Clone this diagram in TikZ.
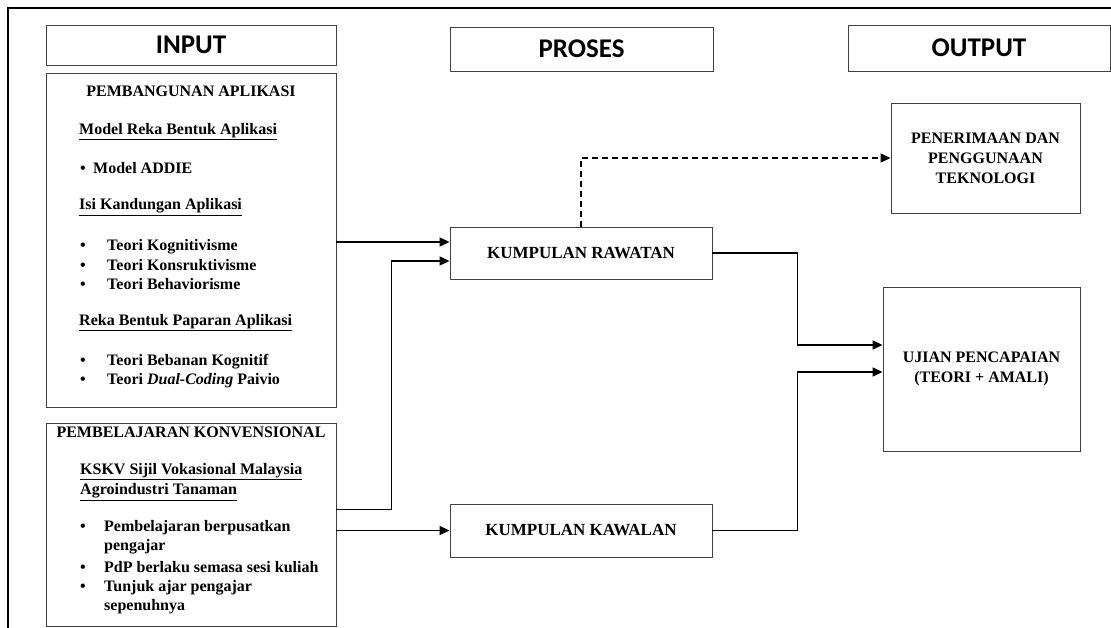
\documentclass[tikz,border=0pt]{standalone}
\usepackage{fontspec}
\setmainfont{Liberation Serif}
\newfontfamily\hdfont{Carlito}
\usetikzlibrary{arrows.meta}
\newcommand{\bul}[1]{\makebox[#1][l]{\textbullet}}

\begin{document}
\begin{tikzpicture}[x=1pt,y=-1pt,
  box/.style={draw=black!75, line width=0.9pt, inner sep=0pt},
  hdr/.style={box, font=\hdfont\bfseries\fontsize{27}{30}\selectfont},
  txt/.style={anchor=west, inner sep=0pt, font=\bfseries\fontsize{16}{19}\selectfont},
  grp/.style={box, font=\bfseries\fontsize{17}{20}\selectfont},
  res/.style={box, align=center, font=\bfseries\fontsize{16}{20}\selectfont},
  flow/.style={line width=1.4pt, -{Triangle[length=10pt,width=9pt]}},
]
\useasboundingbox (0,0) rectangle (1111,628);
\draw[line width=1.3pt] (1111,8) -- (8,8) -- (8,628);

% headers
\node[hdr, minimum width=290pt, minimum height=40pt] (hin) at (191,45) {INPUT};
\node[hdr, minimum width=263pt, minimum height=44pt] (hpro) at (581.5,49) {PROSES};
\node[hdr, minimum width=262pt, minimum height=46pt] (hout) at (979,48) {OUTPUT};

% input
\node[box, minimum width=290pt, minimum height=334pt] (app) at (191,240) {};
\node[box, minimum width=290pt, minimum height=203pt] (konv) at (191,524.5) {};

\node[txt, anchor=center] (t1) at (191,91) {PEMBANGUNAN APLIKASI};
\node[txt] (t2) at (79,132) {\underline{Model Reka Bentuk Aplikasi}};
\node[txt] (t3) at (80,168) {\bul{13pt}Model ADDIE};
\node[txt] (t4) at (79,207) {\underline{Isi Kandungan Aplikasi}};
\node[txt] (t5) at (80,247) {\bul{27pt}Teori Kognitivisme};
\node[txt] (t6) at (80,265) {\bul{27pt}Teori Konsruktivisme};
\node[txt] (t7) at (80,284) {\bul{27pt}Teori Behaviorisme};
\node[txt] (t8) at (79,323) {\underline{Reka Bentuk Paparan Aplikasi}};
\node[txt] (t9) at (80,362) {\bul{27pt}Teori Bebanan Kognitif};
\node[txt] (t10) at (80,381) {\bul{27pt}Teori \textit{Dual-Coding} Paivio};

\node[txt, anchor=center] (s1) at (191,432) {PEMBELAJARAN KONVENSIONAL};
\node[txt] (s2) at (80,472) {\underline{KSKV Sijil Vokasional Malaysia}};
\node[txt] (s3) at (80,492) {\underline{Agroindustri Tanaman}};
\node[txt] (s4) at (80,528) {\bul{24pt}Pembelajaran berpusatkan};
\node[txt] (s5) at (104,547) {pengajar};
\node[txt] (s6) at (80,567) {\bul{24pt}PdP berlaku semasa sesi kuliah};
\node[txt] (s7) at (80,588) {\bul{24pt}Tunjuk ajar pengajar};
\node[txt] (s8) at (104,607) {sepenuhnya};

% proses
\node[grp, minimum width=262pt, minimum height=52pt] (rawatan) at (581,253) {KUMPULAN RAWATAN};
\node[grp, minimum width=262pt, minimum height=53pt] (kawalan) at (581,530.5) {KUMPULAN KAWALAN};

% output
\node[res, minimum width=189pt, minimum height=110pt] (terima) at (985.5,158) {PENERIMAAN DAN\\PENGGUNAAN\\TEKNOLOGI};
\node[res, minimum width=197pt, minimum height=164pt] (ujian) at (981.5,369) {UJIAN PENCAPAIAN\\(TEORI + AMALI)};

\coordinate (r1) at ([yshift=11pt]rawatan.west);
\coordinate (r2) at ([yshift=-8pt]rawatan.west);
\coordinate (u1) at ([yshift=24pt]ujian.west);
\coordinate (u2) at ([yshift=-3pt]ujian.west);

\draw[flow] (app.east |- r1) -- (r1);
\draw[flow] ([yshift=15pt]konv.east) -- ++(55,0) |- (r2);
\draw[flow] (konv.east |- kawalan.west) -- (kawalan.west);
\draw[flow, dash pattern=on 6pt off 4pt] (rawatan.north) |- (terima.west);
\draw[flow] (rawatan.east) -- ++(85,0) |- (u1);
\draw[flow] (kawalan.east) -- ++(85,0) |- (u2);
\end{tikzpicture}
\end{document}
